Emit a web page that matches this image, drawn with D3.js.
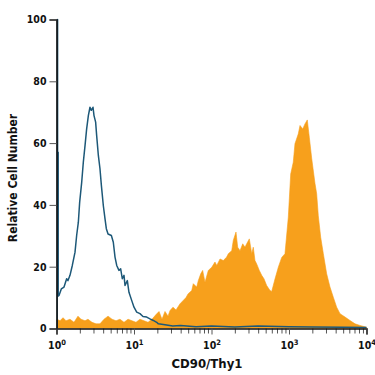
<!DOCTYPE html>
<html>
<head>
<meta charset="utf-8">
<script src="https://cdn.jsdelivr.net/npm/d3@7"></script>
<style>
  html, body { margin: 0; padding: 0; background: #fff; }
  svg { display: block; }
  text { font-family: "Liberation Sans Narrow", "Arial Narrow", "DejaVu Sans Condensed", sans-serif; font-weight: bold; fill: #111; }
</style>
</head>
<body>
<svg width="375" height="375"></svg>
<script>
// fluorescence in decades (log10 of intensity), counts in % of max
const orangeDecade = [0, 0.006, 0.045, 0.084, 0.123, 0.174, 0.226, 0.277, 0.316, 0.368, 0.406, 0.458, 0.510,
  0.561, 0.613, 0.665, 0.716, 0.768, 0.819, 0.871, 0.923, 0.974, 1.026, 1.077, 1.129, 1.181, 1.232, 1.284,
  1.323, 1.361, 1.400, 1.439, 1.465, 1.503, 1.542, 1.594, 1.632, 1.671, 1.697, 1.745, 1.765, 1.809, 1.830,
  1.861, 1.886, 1.916, 1.959, 2.003, 2.045, 2.068, 2.110, 2.152, 2.196, 2.217, 2.261, 2.281, 2.316, 2.338,
  2.368, 2.403, 2.432, 2.454, 2.488, 2.519, 2.539, 2.561, 2.583, 2.617, 2.648, 2.677, 2.712, 2.755, 2.777,
  2.819, 2.862, 2.906, 2.948, 2.991, 3.022, 3.055, 3.077, 3.120, 3.142, 3.177, 3.206, 3.236, 3.262, 3.293,
  3.335, 3.357, 3.378, 3.409, 3.443, 3.486, 3.529, 3.572, 3.615, 3.658, 3.723, 3.787, 3.852, 3.916, 4.0];
const orangeCount = [3, 3, 2.5, 3.5, 2.5, 3, 2, 4, 3, 2.5, 3, 2, 1.5,
  1.5, 3, 4, 3, 2.5, 3, 2, 3, 2.5, 2, 3, 2.5, 2, 3, 4.5,
  5.5, 3, 5.5, 4, 5.8, 6.9, 6, 8, 9, 10, 11.2, 12.3, 14.5, 13.4, 15.5,
  17.7, 18.8, 15, 18.8, 19.8, 21.5, 20.4, 22.5, 22, 23.1, 24.2, 25.2, 28.5, 31.2, 26.3,
  25.2, 27.4, 26.3, 27.4, 29, 24.2, 26.3, 22, 20.9, 18.8, 17.2, 16.1, 13.9, 12.3, 12,
  16, 19.8, 23, 24.2, 36, 50, 53.8, 59.8, 63, 65.7, 64.6, 66.2, 67.5, 61.9, 55,
  47, 43.6, 36.5, 29.5, 24.2, 17.7, 13.4, 10.1, 6.9, 4.8, 3.7, 2.6, 1.5, 1, 0.4];

const blueDecade = [0.008, 0.008, 0.014, 0.014, 0.022, 0.022, 0.032, 0.062, 0.097, 0.131, 0.148, 0.174, 0.204, 0.239,
  0.260, 0.282, 0.299, 0.325, 0.346, 0.368, 0.389, 0.411, 0.432, 0.449, 0.471, 0.484, 0.505, 0.518, 0.540,
  0.561, 0.579, 0.604, 0.626, 0.643, 0.665, 0.708, 0.733, 0.755, 0.777, 0.806, 0.828, 0.849, 0.871, 0.884,
  0.914, 0.935, 0.970, 1.0, 1.035, 1.077, 1.116, 1.164, 1.206, 1.249, 1.293, 1.314, 1.4, 1.5, 1.6, 1.8,
  2.0, 2.3, 2.6, 3.0, 3.3, 3.7, 4.0];
const blueCount = [0, 100, 100, 57, 57, 10.5, 10.7, 12.8, 13.4, 16.1, 15.5, 17.2, 20.4, 24.7,
  30.1, 34.4, 40.9, 47.3, 53.8, 59.2, 64.6, 68.9, 71.6, 70.6, 71.6, 68.9, 66.8, 62.5, 56,
  51.7, 46.3, 39.8, 35.5, 32.3, 30.6, 30.1, 27.9, 23.1, 20.4, 18.8, 19.3, 16.1, 17.2, 13.9,
  15.5, 11.7, 9.1, 6.9, 5.3, 4.8, 3.9, 3.7, 3.1, 2.6, 2, 1.5, 1.2, 0.8, 1, 0.6,
  0.8, 0.5, 0.8, 0.6, 0.5, 0.4, 0.3];

const xTicks = [1, 10, 100, 1000, 10000];
const xTickExp = ["0", "1", "2", "3", "4"];
const yTicks = [0, 20, 40, 60, 80, 100];
const xTitle = "CD90/Thy1";
const yTitle = "Relative Cell Number";

const svg = d3.select('svg');
const margens = { left: 56.5, right: 366.5, top: 19.5, bottom: 328.5 };

const x = d3.scaleLog().domain([1, 10000]).range([margens.left, margens.right]);
const y = d3.scaleLinear().domain([0, 100]).range([margens.bottom, margens.top]).clamp(true);

const orange = orangeDecade.map((d, i) => ({ v: Math.pow(10, d), c: orangeCount[i] }));
const blue = blueDecade.map((d, i) => ({ v: Math.pow(10, d), c: blueCount[i] }));

svg.append('defs').append('clipPath').attr('id', 'plot')
    .append('rect')
    .attr('x', margens.left).attr('y', margens.top - 1)
    .attr('width', margens.right - margens.left + 1).attr('height', margens.bottom - margens.top + 1);

const plot = svg.append('g').attr('clip-path', 'url(#plot)');

// histogram of stained cells
plot.append('path')
    .datum(orange)
    .attr('fill', '#F7A01C')
    .attr('stroke', '#F7A01C')
    .attr('stroke-width', 0.6)
    .attr('d', d3.area().x(d => x(d.v)).y0(margens.bottom).y1(d => y(d.c)));

// isotype control outline
plot.append('path')
    .datum(blue)
    .attr('fill', 'none')
    .attr('stroke', '#1D5878')
    .attr('stroke-width', 1.5)
    .attr('stroke-linejoin', 'round')
    .attr('d', d3.line().x(d => x(d.v)).y(d => y(d.c)));

// Eixos
const yAxis = svg.append('g')
    .attr('transform', `translate(${margens.left}, 0)`)
    .call(d3.axisLeft(y).tickValues(yTicks).tickSize(7).tickPadding(3));
yAxis.selectAll('text').attr('font-size', 10.5);

const minor = [];
xTicks.slice(0, -1).forEach(t => { for (let k = 2; k < 10; k++) minor.push(t * k); });

svg.append('g')
    .attr('transform', `translate(0, ${margens.bottom})`)
    .call(d3.axisBottom(x).tickValues(minor).tickSize(5).tickFormat(''))
    .call(g => g.select('.domain').remove());

const xAxis = svg.append('g')
    .attr('transform', `translate(0, ${margens.bottom})`)
    .call(d3.axisBottom(x).tickValues(xTicks).tickSize(6).tickFormat(''));

xAxis.selectAll('.tick').append('text')
    .attr('y', 20)
    .attr('font-size', 10.5)
    .attr('text-anchor', 'middle')
    .each(function (d, i) {
        const t = d3.select(this);
        t.append('tspan').text('10');
        t.append('tspan').attr('dy', -4).attr('font-size', 7.5).text(xTickExp[i]);
    });

svg.selectAll('.domain').attr('stroke', '#111').attr('stroke-width', 1.6);
svg.selectAll('.tick line').attr('stroke', '#555').attr('stroke-width', 1);
svg.selectAll('.tick text').attr('fill', '#111');

svg.append('text')
    .attr('x', 207).attr('y', 368)
    .attr('text-anchor', 'middle')
    .attr('font-size', 13)
    .text(xTitle);

svg.append('text')
    .attr('transform', 'translate(17, 178) rotate(-90)')
    .attr('text-anchor', 'middle')
    .attr('font-size', 12)
    .text(yTitle);
</script>
</body>
</html>
